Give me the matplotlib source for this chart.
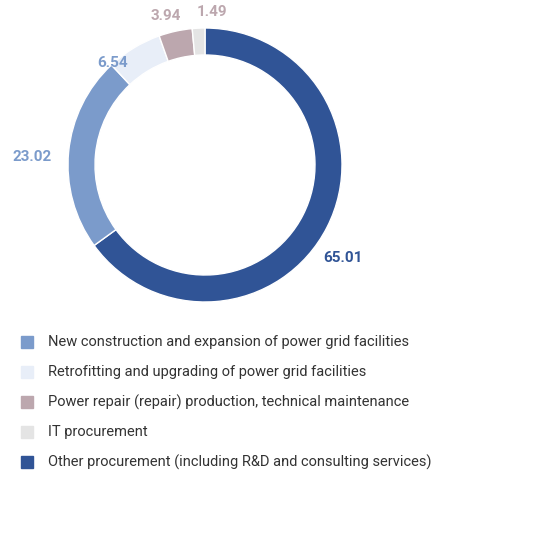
import matplotlib
matplotlib.use("Agg")
import matplotlib.pyplot as plt

categories = ["Other procurement (including R&D and consulting services)",
              "New construction and expansion of power grid facilities",
              "Retrofitting and upgrading of power grid facilities",
              "Power repair (repair) production, technical maintenance",
              "IT procurement"]
values = [65.01, 23.02, 6.54, 3.94, 1.49]
colors = ["#305496", "#7b9bcb", "#e8eef8", "#bca7ae", "#e4e4e4"]
label_colors = ["#305496", "#7b9bcb", "#7b9bcb", "#bca7ae", "#bca7ae"]
legend_order = [1, 2, 3, 4, 0]

W, H = 550, 540
fig = plt.figure(figsize=(W/100, H/100), dpi=100)
cx, cy, r = 205, 165, 137
ax = fig.add_axes([(cx-r)/W, 1-(cy+r)/H, 2*r/W, 2*r/H])
ax.pie(values, colors=colors, startangle=90, counterclock=False,
       wedgeprops=dict(width=27/137, edgecolor="white", linewidth=1))
ax.set_xlim(-1, 1)
ax.set_ylim(-1, 1)
ax.set_aspect("equal")

label_pos = [(343, 258), (32, 157), (113, 63), (166, 16), (212, 12)]
for v, (x, y), c in zip(values, label_pos, label_colors):
    fig.text(x/W, 1-y/H, f"{v:.2f}", color=c, fontsize=11, fontweight="bold",
             ha="center", va="center", family="Roboto")

for i, idx in enumerate(legend_order):
    y = 342 + 30*i
    fig.patches.append(plt.Rectangle(((21)/W, 1-(y+6)/H), 12/W, 12/H,
                                     transform=fig.transFigure, color=colors[idx]))
    fig.text(48/W, 1-y/H, categories[idx], color="#333333", fontsize=10.5,
             ha="left", va="center", family="Roboto")

fig.savefig("out.png", dpi=100)
